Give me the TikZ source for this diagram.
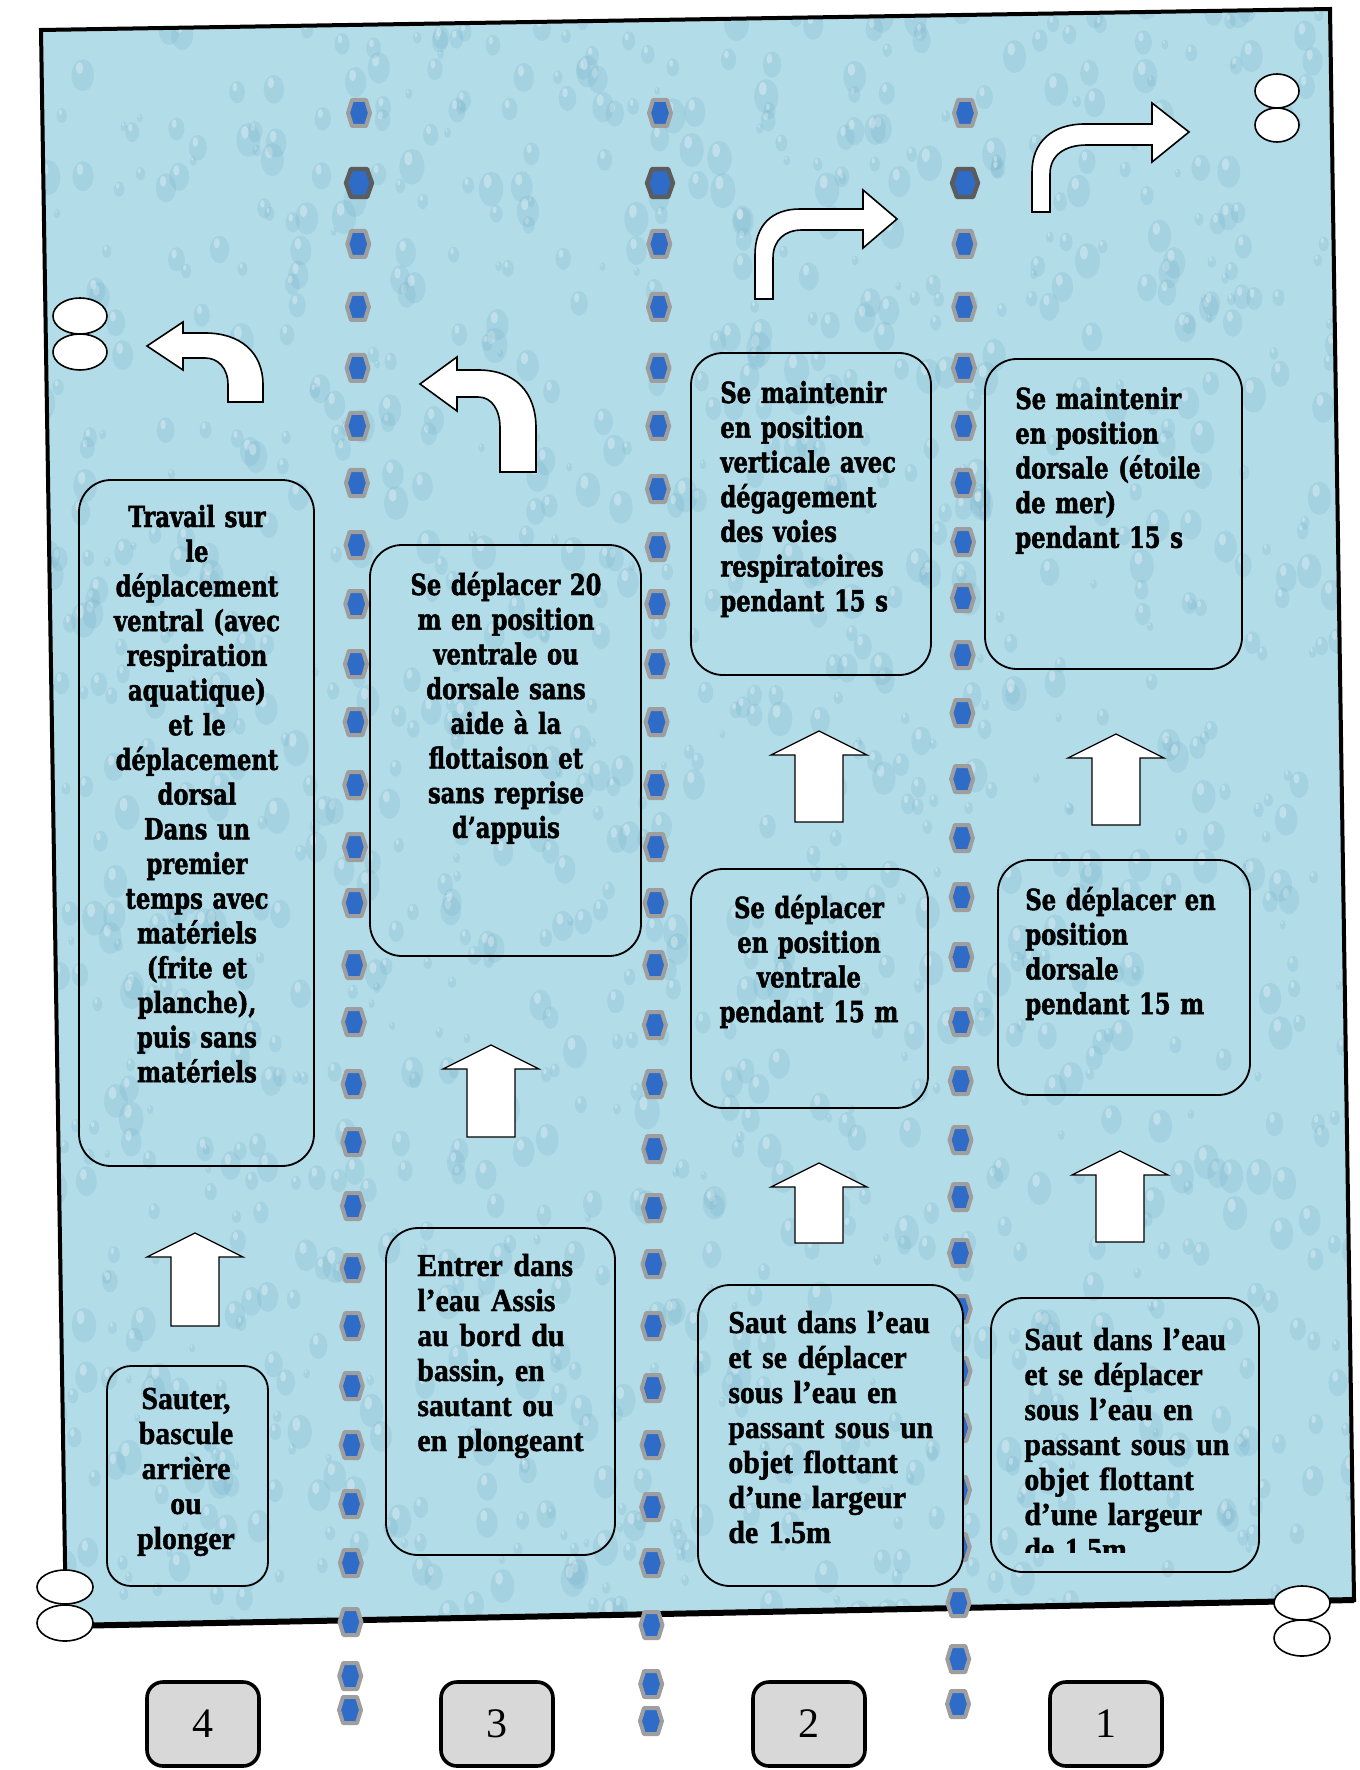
\documentclass[tikz,border=0pt]{standalone}
\usepackage{fontspec}
\setmainfont{Liberation Serif}
\newfontfamily\widefont[FakeStretch=0.78, BoldFeatures={FakeBold=1.6}]{DejaVu Serif}
\newfontfamily\timesfont[FakeStretch=0.93, BoldFeatures={FakeBold=1.3}]{Liberation Serif}
\newfontfamily\numfont{Liberation Serif}
\usetikzlibrary{fit,shapes.geometric}

\definecolor{pool}{RGB}{178,220,232}
\definecolor{dropdark}{RGB}{112,172,198}
\definecolor{hexblue}{RGB}{46,108,200}
\definecolor{hexgrey}{RGB}{158,158,158}
\definecolor{hexdark}{RGB}{92,92,92}
\definecolor{numgrey}{RGB}{216,216,216}

\newcommand{\drawdrops}{%
  \pgfmathsetseed{4242}%
  \foreach \k in {1,...,1300}{%
    \pgfmathsetmacro{\dropx}{20+1340*rnd}%
    \pgfmathsetmacro{\dropy}{1640*rnd}%
    \pgfmathsetmacro{\dropr}{4+14*rnd}%
    \fill[dropdark, opacity=0.2] (\dropx,\dropy+0.15*\dropr) ellipse [x radius=0.7*\dropr, y radius=\dropr];
    \fill[white, opacity=0.3] (\dropx-0.2*\dropr,\dropy-0.3*\dropr) ellipse [x radius=0.22*\dropr, y radius=0.38*\dropr];
  }%
}

\tikzset{
  taskbox/.style={draw=black, line width=0.9pt, rounded corners=16pt, inner sep=0pt},
  widetext/.style={inner sep=0pt, font=\widefont\bfseries\fontsize{14.5}{17.35}\selectfont},
  timestext/.style={inner sep=0pt, font=\timesfont\bfseries\fontsize{16}{17.5}\selectfont},
  uparrow/.style={draw=black, fill=white, line width=0.6pt, line join=miter},
  bentarrow/.style={draw=black, fill=white, line width=0.8pt, line join=miter},
  ring/.style={draw=black, fill=white, line width=0.8pt, ellipse, inner sep=0pt},
  numbox/.style={draw=black, fill=numgrey, line width=1.8pt, rounded corners=8pt, inner sep=0pt,
    minimum width=56pt, minimum height=42pt, font=\numfont\fontsize{21}{21}\selectfont},
  hexa/.pic={\filldraw[fill=hexblue, draw=hexgrey, line width=2pt, line join=round]
    (-11,0) -- (-7,-13) -- (7,-13) -- (11,0) -- (7,13) -- (-7,13) -- cycle;},
  hexadark/.pic={\filldraw[fill=hexblue, draw=hexdark, line width=2.2pt, line join=round]
    (-13,0) -- (-8,-14) -- (8,-14) -- (13,0) -- (8,14) -- (-8,14) -- cycle;},
}

\newcommand{\uparr}[3]{% center x, top y, bottom y
  \draw[uparrow] (#1,#2) -- ({#1+48},{#2+24}) -- ({#1+24},{#2+24}) -- ({#1+24},#3)
    -- ({#1-24},#3) -- ({#1-24},{#2+24}) -- ({#1-48},{#2+24}) -- cycle;}

\begin{document}
\begin{tikzpicture}[x=0.5pt, y=-0.5pt]
\useasboundingbox (0,0) rectangle (1359,1770);
\fill[white] (0,0) rectangle (1359,1770);

% pool
\coordinate (ptl) at (41,30);
\coordinate (ptr) at (1330,9);
\coordinate (pbr) at (1354,1600);
\coordinate (pbl) at (66,1626);
\fill[pool] (ptl) -- (ptr) -- (pbr) -- (pbl) -- cycle;
\begin{scope}
  \clip (ptl) -- (ptr) -- (pbr) -- (pbl) -- cycle;
  \drawdrops
\end{scope}
\draw[line width=2pt, line join=miter] (ptl) -- (ptr) -- (pbr) -- (pbl) -- cycle;
\draw[line width=3pt] (pbl) -- (pbr);

% lane ropes
\foreach \hy in {113,244,307,368,426,483,545,604,664,722,785,847,903,965,1022,1084,1142,1206,1268,1326,1386,1445,1504,1563,1622,1676,1710}{
  \pgfmathsetmacro{\hx}{359-9*(\hy-113)/1597}
  \pic at (\hx,\hy) {hexa};
}
\foreach \hy in {113,244,307,368,426,489,547,604,664,722,785,847,903,965,1025,1084,1149,1208,1264,1326,1388,1445,1507,1563,1625,1684,1721}{
  \pgfmathsetmacro{\hx}{660-9*(\hy-113)/1597}
  \pic at (\hx,\hy) {hexa};
}
\foreach \hy in {113,244,307,368,426,483,542,598,655,713,779,838,897,957,1022,1081,1140,1197,1253,1309,1371,1428,1490,1547,1603,1659,1704}{
  \pgfmathsetmacro{\hx}{965-7*(\hy-113)/1597}
  \pic at (\hx,\hy) {hexa};
}
\pic at (359,183) {hexadark};
\pic at (660,183) {hexadark};
\pic at (965,183) {hexadark};

% rings at the corners
\node[ring, minimum width=27pt, minimum height=18pt] (rtl1) at (80,316) {};
\node[ring, minimum width=27pt, minimum height=18pt] (rtl2) at (80,352) {};
\node[ring, minimum width=22pt, minimum height=17pt] (rtr1) at (1277,91) {};
\node[ring, minimum width=22pt, minimum height=17pt] (rtr2) at (1277,125) {};
\node[ring, minimum width=28pt, minimum height=17pt] (rbl1) at (65,1587) {};
\node[ring, minimum width=28pt, minimum height=18pt] (rbl2) at (65,1623) {};
\node[ring, minimum width=28pt, minimum height=17pt] (rbr1) at (1302,1603) {};
\node[ring, minimum width=28pt, minimum height=18pt] (rbr2) at (1302,1638) {};

% task boxes
\node[taskbox, fit={(79,480) (314,1166)}] (boxA) {};
\node[taskbox, rounded corners=12pt, fit={(107,1366) (268,1586)}] (boxB) {};
\node[taskbox, fit={(370,545) (641,956)}] (boxC) {};
\node[taskbox, fit={(386,1228) (615,1555)}] (boxD) {};
\node[taskbox, fit={(691,353) (931,675)}] (boxE) {};
\node[taskbox, fit={(691,869) (928,1108)}] (boxF) {};
\fill[pool, rounded corners=16pt] (698,1285) rectangle (963,1586);
\begin{scope}
  \clip[rounded corners=16pt] (698,1285) rectangle (963,1586);
  \drawdrops
\end{scope}
\node[taskbox, fit={(698,1285) (963,1586)}] (boxG) {};
\node[taskbox, fit={(985,359) (1242,669)}] (boxH) {};
\node[taskbox, fit={(998,860) (1250,1095)}] (boxI) {};
\node[taskbox, fit={(991,1298) (1259,1572)}] (boxJ) {};

% texts
\node[widetext, align=center, text width=118pt, anchor=base] (tA) at (197,527)
  {Travail sur\\le\\déplacement\\ventral (avec\\respiration\\aquatique)\\et le\\déplacement\\dorsal\\Dans un\\premier\\temps avec\\matériels\\(frite et\\planche),\\puis sans\\matériels};
\node[timestext, align=center, text width=70pt, anchor=base] (tB) at (186,1409)
  {Sauter,\\bascule\\arrière\\ou\\plonger};
\node[widetext, align=center, text width=128pt, anchor=base] (tC) at (506,595)
  {Se déplacer 20\\m en position\\ventrale ou\\dorsale sans\\aide à la\\flottaison et\\sans reprise\\d’appuis};
\node[timestext, align=left, text width=105pt, anchor=base west] (tD) at (417,1276)
  {Entrer dans\\l’eau Assis\\au bord du\\bassin, en\\sautant ou\\en plongeant};
\node[widetext, align=left, text width=110pt, anchor=base west] (tE) at (720,403)
  {Se maintenir\\en position\\verticale avec\\dégagement\\des voies\\respiratoires\\pendant 15 s};
\node[widetext, align=center, text width=115pt, anchor=base] (tF) at (809,918)
  {Se déplacer\\en position\\ventrale\\pendant 15 m};
\node[timestext, align=left, text width=120pt, anchor=base west] (tG) at (728,1333)
  {Saut dans l’eau\\et se déplacer\\sous l’eau en\\passant sous un\\objet flottant\\d’une largeur\\de 1.5m};
\node[widetext, align=left, text width=115pt, anchor=base west] (tH) at (1015,409)
  {Se maintenir\\en position\\dorsale (étoile\\de mer)\\pendant 15 s};
\node[widetext, align=left, text width=115pt, anchor=base west] (tI) at (1025,910)
  {Se déplacer en\\position\\dorsale\\pendant 15 m};
\begin{scope}
  \clip (991,1298) rectangle (1259,1552);
  \node[timestext, align=left, text width=120pt, anchor=base west] (tJ) at (1024,1350)
    {Saut dans l’eau\\et se déplacer\\sous l’eau en\\passant sous un\\objet flottant\\d’une largeur\\de 1.5m};
\end{scope}

% straight block arrows
\uparr{195}{1233}{1326}
\uparr{491}{1045}{1137}
\uparr{819}{731}{822}
\uparr{819}{1163}{1243}
\uparr{1116}{734}{825}
\uparr{1120}{1151}{1242}

% bent arrows
\draw[bentarrow] (147,346) -- (183,322) -- (183,333) -- (205,333)
  .. controls (240,333) and (263,352) .. (263,385) -- (263,402) -- (228,402) -- (228,385)
  .. controls (228,368) and (218,358) .. (205,358) -- (183,358) -- (183,370) -- cycle;
\draw[bentarrow] (420,384) -- (457,357) -- (457,370) -- (478,370)
  .. controls (515,370) and (536,392) .. (536,428) -- (536,472) -- (500,472) -- (500,428)
  .. controls (500,410) and (492,397) .. (478,397) -- (457,397) -- (457,411) -- cycle;
\draw[bentarrow] (897,219) -- (863,190) -- (863,209) -- (800,209)
  .. controls (772,209) and (755,225) .. (755,255) -- (755,299) -- (773,299) -- (773,258)
  .. controls (773,240) and (785,230) .. (802,230) -- (863,230) -- (863,248) -- cycle;
\draw[bentarrow] (1189,132) -- (1152,103) -- (1152,124) -- (1085,124)
  .. controls (1052,124) and (1032,142) .. (1032,172) -- (1032,212) -- (1050,212) -- (1050,174)
  .. controls (1050,155) and (1065,145) .. (1087,145) -- (1152,145) -- (1152,162) -- cycle;

% lane numbers
\node[numbox] (n4) at (203,1724) {4};
\node[numbox] (n3) at (497,1724) {3};
\node[numbox] (n2) at (809,1724) {2};
\node[numbox] (n1) at (1106,1724) {1};
\end{tikzpicture}
\end{document}
